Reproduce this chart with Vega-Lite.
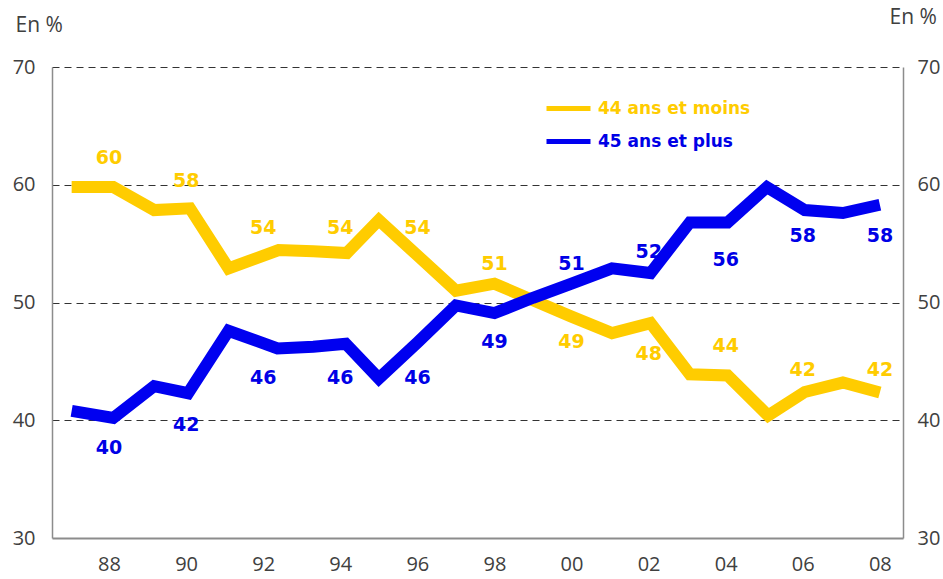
{
  "$schema": "https://vega.github.io/schema/vega-lite/v6.json",
  "width": 851,
  "height": 471,
  "autosize": "none",
  "padding": {"left": 52, "top": 67, "right": 40, "bottom": 41},
  "background": "white",
  "config": {
    "view": {"stroke": null},
    "axis": {"labelFont": "Open Sans", "labelFontSize": 20, "labelColor": "#404040", "titleFont": "Open Sans", "titleFontSize": 21, "titleFontWeight": "normal", "titleColor": "#404040"}
  },
  "datasets": {
    "series": [
      {"annee": 1987.03, "groupe": "44 ans et moins", "part": 59.8},
      {"annee": 1988.11, "groupe": "44 ans et moins", "part": 59.8},
      {"annee": 1989.17, "groupe": "44 ans et moins", "part": 57.85},
      {"annee": 1990.1, "groupe": "44 ans et moins", "part": 58.0},
      {"annee": 1991.1, "groupe": "44 ans et moins", "part": 52.9},
      {"annee": 1992.4, "groupe": "44 ans et moins", "part": 54.45},
      {"annee": 1993.3, "groupe": "44 ans et moins", "part": 54.35},
      {"annee": 1994.17, "groupe": "44 ans et moins", "part": 54.2},
      {"annee": 1995.0, "groupe": "44 ans et moins", "part": 57.0},
      {"annee": 1996.0, "groupe": "44 ans et moins", "part": 54.0},
      {"annee": 1997.0, "groupe": "44 ans et moins", "part": 51.0},
      {"annee": 1998.0, "groupe": "44 ans et moins", "part": 51.6},
      {"annee": 1999.0, "groupe": "44 ans et moins", "part": 50.2},
      {"annee": 2000.0, "groupe": "44 ans et moins", "part": 48.8},
      {"annee": 2001.05, "groupe": "44 ans et moins", "part": 47.4},
      {"annee": 2002.05, "groupe": "44 ans et moins", "part": 48.25},
      {"annee": 2003.07, "groupe": "44 ans et moins", "part": 43.9},
      {"annee": 2004.05, "groupe": "44 ans et moins", "part": 43.8},
      {"annee": 2005.1, "groupe": "44 ans et moins", "part": 40.4},
      {"annee": 2006.05, "groupe": "44 ans et moins", "part": 42.4},
      {"annee": 2007.04, "groupe": "44 ans et moins", "part": 43.2},
      {"annee": 2008.0, "groupe": "44 ans et moins", "part": 42.35},
      {"annee": 1987.03, "groupe": "45 ans et plus", "part": 40.8},
      {"annee": 1988.11, "groupe": "45 ans et plus", "part": 40.2},
      {"annee": 1989.17, "groupe": "45 ans et plus", "part": 42.9},
      {"annee": 1990.05, "groupe": "45 ans et plus", "part": 42.3},
      {"annee": 1991.1, "groupe": "45 ans et plus", "part": 47.6},
      {"annee": 1992.37, "groupe": "45 ans et plus", "part": 46.1},
      {"annee": 1993.3, "groupe": "45 ans et plus", "part": 46.25},
      {"annee": 1994.14, "groupe": "45 ans et plus", "part": 46.5},
      {"annee": 1995.0, "groupe": "45 ans et plus", "part": 43.55},
      {"annee": 1996.0, "groupe": "45 ans et plus", "part": 46.6},
      {"annee": 1997.0, "groupe": "45 ans et plus", "part": 49.75},
      {"annee": 1998.0, "groupe": "45 ans et plus", "part": 49.1},
      {"annee": 1999.0, "groupe": "45 ans et plus", "part": 50.4},
      {"annee": 2000.0, "groupe": "45 ans et plus", "part": 51.6},
      {"annee": 2001.05, "groupe": "45 ans et plus", "part": 52.9},
      {"annee": 2002.05, "groupe": "45 ans et plus", "part": 52.5},
      {"annee": 2003.07, "groupe": "45 ans et plus", "part": 56.8},
      {"annee": 2004.05, "groupe": "45 ans et plus", "part": 56.8},
      {"annee": 2005.07, "groupe": "45 ans et plus", "part": 59.8},
      {"annee": 2006.05, "groupe": "45 ans et plus", "part": 57.85},
      {"annee": 2007.04, "groupe": "45 ans et plus", "part": 57.6},
      {"annee": 2008.0, "groupe": "45 ans et plus", "part": 58.3}
    ],
    "etiquettes": [
      {"annee": 1988, "groupe": "44 ans et moins", "valeur": 60, "place": "dessus"},
      {"annee": 1990, "groupe": "44 ans et moins", "valeur": 58, "place": "dessus"},
      {"annee": 1992, "groupe": "44 ans et moins", "valeur": 54, "place": "dessus"},
      {"annee": 1994, "groupe": "44 ans et moins", "valeur": 54, "place": "dessus"},
      {"annee": 1996, "groupe": "44 ans et moins", "valeur": 54, "place": "dessus"},
      {"annee": 1998, "groupe": "44 ans et moins", "valeur": 51, "place": "dessus"},
      {"annee": 2000, "groupe": "44 ans et moins", "valeur": 49, "place": "dessous"},
      {"annee": 2002, "groupe": "44 ans et moins", "valeur": 48, "place": "dessous"},
      {"annee": 2004, "groupe": "44 ans et moins", "valeur": 44, "place": "dessus"},
      {"annee": 2006, "groupe": "44 ans et moins", "valeur": 42, "place": "dessus"},
      {"annee": 2008, "groupe": "44 ans et moins", "valeur": 42, "place": "dessus"},
      {"annee": 1988, "groupe": "45 ans et plus", "valeur": 40, "place": "dessous"},
      {"annee": 1990, "groupe": "45 ans et plus", "valeur": 42, "place": "dessous"},
      {"annee": 1992, "groupe": "45 ans et plus", "valeur": 46, "place": "dessous"},
      {"annee": 1994, "groupe": "45 ans et plus", "valeur": 46, "place": "dessous"},
      {"annee": 1996, "groupe": "45 ans et plus", "valeur": 46, "place": "dessous"},
      {"annee": 1998, "groupe": "45 ans et plus", "valeur": 49, "place": "dessous"},
      {"annee": 2000, "groupe": "45 ans et plus", "valeur": 51, "place": "dessus"},
      {"annee": 2002, "groupe": "45 ans et plus", "valeur": 52, "place": "dessus"},
      {"annee": 2004, "groupe": "45 ans et plus", "valeur": 56, "place": "dessous"},
      {"annee": 2006, "groupe": "45 ans et plus", "valeur": 58, "place": "dessous"},
      {"annee": 2008, "groupe": "45 ans et plus", "valeur": 58, "place": "dessous"}
    ]
  },
  "layer": [
    {
      "data": {"name": "series"},
      "mark": {"type": "line", "strokeWidth": 12, "strokeJoin": "miter"},
      "encoding": {
        "x": {
          "field": "annee", "type": "quantitative",
          "scale": {"domain": [1986.52, 2008.6], "nice": false, "zero": false},
          "axis": {
            "values": [1988, 1990, 1992, 1994, 1996, 1998, 2000, 2002, 2004, 2006, 2008],
            "labelExpr": "slice('0' + (datum.value % 100), -2)",
            "grid": false, "ticks": false, "domainColor": "#8c8c8c", "domainWidth": 2,
            "labelPadding": 16, "title": null
          }
        },
        "y": {
          "field": "part", "type": "quantitative",
          "scale": {"domain": [30, 70], "nice": false, "zero": false},
          "axis": {
            "values": [30, 40, 50, 60, 70],
            "grid": true, "gridDash": [7, 5], "gridColor": "#333333", "gridWidth": 1,
            "gridOpacity": {"condition": {"test": "datum.value === 30", "value": 0}, "value": 1},
            "ticks": false, "domainColor": "#8c8c8c", "domainWidth": 1.5,
            "labelPadding": 17,
            "title": "En %", "titleAngle": 0, "titleAlign": "left", "titleBaseline": "middle",
            "titleX": -37, "titleY": -42
          }
        },
        "color": {
          "field": "groupe", "type": "nominal",
          "scale": {"domain": ["44 ans et moins", "45 ans et plus"], "range": ["#FFCC00", "#0000F0"]},
          "legend": {
            "orient": "none", "legendX": 503, "legendY": 28, "title": null,
            "padding": 0, "symbolType": "M-2,0H2", "symbolSize": 484, "symbolStrokeWidth": 5,
            "labelOffset": 16, "rowPadding": 9,
            "labelFont": "DejaVu Sans", "labelFontSize": 17, "labelFontWeight": "bold",
            "encode": {
              "labels": {"update": {"fill": {"signal": "datum.value === '44 ans et moins' ? '#FFCC00' : '#0000E6'"}}}
            }
          }
        }
      }
    },
    {
      "data": {"name": "series"},
      "mark": {"type": "line", "opacity": 0},
      "encoding": {
        "x": {"field": "annee", "type": "quantitative"},
        "y": {
          "field": "part", "type": "quantitative",
          "scale": {"domain": [30, 70], "nice": false, "zero": false},
          "axis": {
            "orient": "right", "values": [30, 40, 50, 60, 70], "grid": false,
            "ticks": false, "domainColor": "#8c8c8c", "domainWidth": 1.5,
            "labelPadding": 14,
            "title": "En %", "titleAngle": 0, "titleAlign": "left", "titleBaseline": "middle",
            "titleX": -14, "titleY": -50
          }
        },
        "detail": {"field": "groupe"}
      }
    },
    {
      "data": {"name": "etiquettes"},
      "transform": [{"filter": "datum.place === 'dessus'"}],
      "mark": {"type": "text", "font": "DejaVu Sans", "fontSize": 19, "fontWeight": "bold", "baseline": "middle", "align": "center", "dy": -27},
      "encoding": {
        "x": {"field": "annee", "type": "quantitative"},
        "y": {"field": "valeur", "type": "quantitative", "axis": null, "scale": {"domain": [30, 70], "nice": false, "zero": false}},
        "text": {"field": "valeur", "type": "quantitative"},
        "color": {"field": "groupe", "type": "nominal", "scale": {"domain": ["44 ans et moins", "45 ans et plus"], "range": ["#FFCC00", "#0000E6"]}, "legend": null}
      }
    },
    {
      "data": {"name": "etiquettes"},
      "transform": [{"filter": "datum.place === 'dessous'"}],
      "mark": {"type": "text", "font": "DejaVu Sans", "fontSize": 19, "fontWeight": "bold", "baseline": "middle", "align": "center", "dy": 28},
      "encoding": {
        "x": {"field": "annee", "type": "quantitative"},
        "y": {"field": "valeur", "type": "quantitative", "axis": null, "scale": {"domain": [30, 70], "nice": false, "zero": false}},
        "text": {"field": "valeur", "type": "quantitative"},
        "color": {"field": "groupe", "type": "nominal", "scale": {"domain": ["44 ans et moins", "45 ans et plus"], "range": ["#FFCC00", "#0000E6"]}, "legend": null}
      }
    }
  ],
  "resolve": {"axis": {"y": "independent"}, "scale": {"color": "independent"}}
}
